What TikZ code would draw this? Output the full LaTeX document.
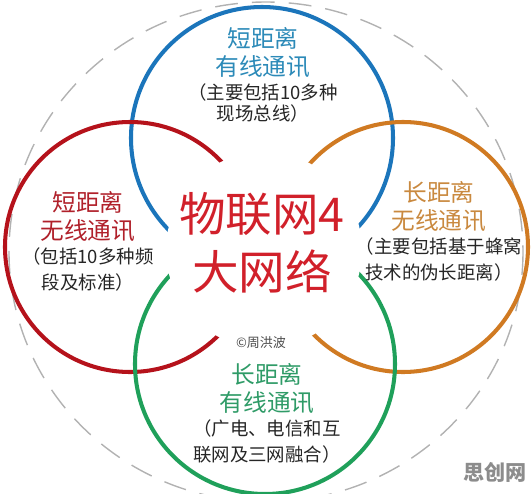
\documentclass[tikz,border=0pt]{standalone}
\usepackage{fontspec}
\setmainfont{Noto Sans CJK SC}
\usepackage{tikz}
\usetikzlibrary{positioning}
\usepackage{xcolor}

\definecolor{ringblue}{HTML}{1B75BB}
\definecolor{ringred}{HTML}{B5121B}
\definecolor{ringorange}{HTML}{D07A22}
\definecolor{ringgreen}{HTML}{1FA05A}
\definecolor{textblue}{HTML}{2C8AB8}
\definecolor{textred}{HTML}{B0202A}
\definecolor{textorange}{HTML}{C9893F}
\definecolor{textgreen}{HTML}{2F9B67}
\definecolor{titlered}{HTML}{D1202A}

\begin{document}
\begin{tikzpicture}[%
    x=0.02cm,
    y=-0.02cm,
    node distance=3pt,
    ring/.style={line width=2.3pt},
    outerring/.style={%
      gray!60,
      line width=0.8pt,
      dash pattern=on 13pt off 8pt
    },
    head/.style={%
      inner sep=0pt,
      align=center,
      font=\fontsize{13.5}{15.9}\selectfont
    },
    detail/.style={%
      inner sep=0pt,
      align=center,
      text=black!85,
      font=\fontsize{10.5}{14.6}\selectfont
    },
    title/.style={%
      inner sep=0pt,
      align=center,
      text=titlered,
      font=\fontsize{26.5}{32.9}\selectfont
    }
  ]
    \useasboundingbox (0,0) rectangle (532,494);

    % the four networks and the whole
    \coordinate (cblue)   at (262,138);
    \coordinate (cred)    at (130,247);
    \coordinate (corange) at (403,247);
    \coordinate (cgreen)  at (265,364);
    \coordinate (cmid)    at (264,250);

    \draw[outerring] (266,252) ellipse [x radius=257, y radius=250];
    \draw[ring, ringblue]   (cblue)   circle [radius=131];
    \draw[ring, ringred]    (cred)    circle [radius=125];
    \draw[ring, ringorange] (corange) circle [radius=125];
    \draw[ring, ringgreen]  (cgreen)  circle [radius=130];
    \fill[white] (cmid) circle [radius=98];

    \node[title] (title) at (262,243) {物联网4\\大网络};

    \node[head, text=textblue] (bluehead) at (263,53) {短距离\\有线通讯};
    \node[detail, font=\fontsize{10.5}{11.6}\selectfont] (bluedetail)
      [below=of bluehead] {（主要包括10多种\\现场总线）};

    \node[head, text=textred] (redhead) at (88,217) {短距离\\无线通讯};
    \node[detail] (reddetail) [below=of redhead] {（包括10多种频\\段及标准）};

    \node[head, text=textorange] (orangehead) at (439,207) {长距离\\无线通讯};
    \node[detail] (orangedetail) [below=of orangehead]
      {（主要包括基于蜂窝\\技术的伪长距离）};

    \node[head, text=textgreen] (greenhead) at (267,389) {长距离\\有线通讯};
    \node[detail] (greendetail) [below=of greenhead]
      {（广电、电信和互\\联网及三网融合）};

    \node[text=black!70, font=\fontsize{7.4}{8}\selectfont] (author) at (261,343) {©周洪波};
    \node[text=black!45, font=\bfseries\fontsize{12}{13}\selectfont] (mark) at (495,472) {思创网};
  \end{tikzpicture}
\end{document}
